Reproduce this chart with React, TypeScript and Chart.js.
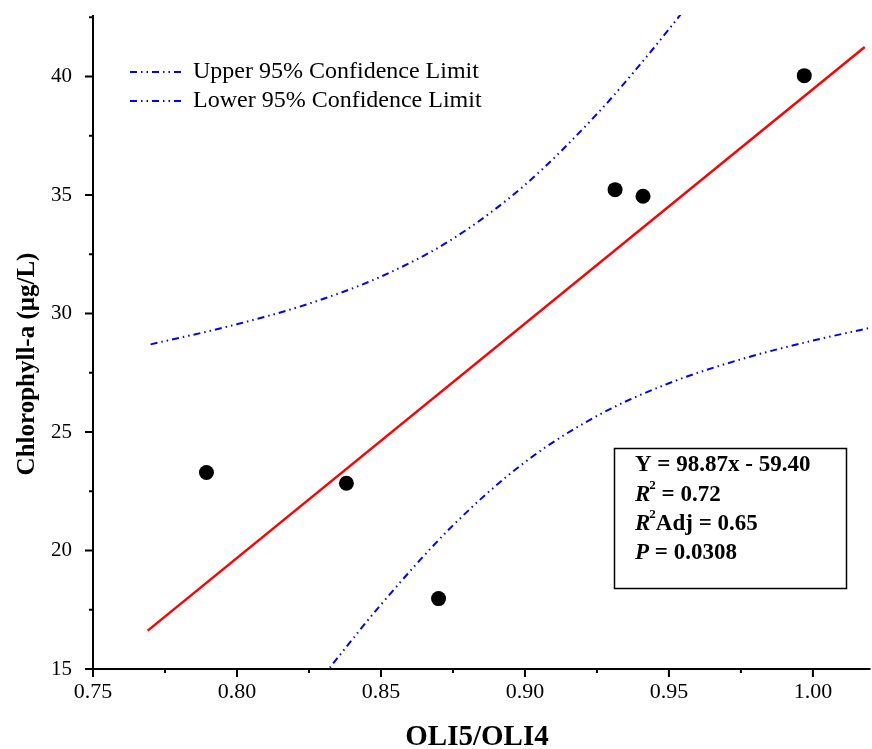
import React, { useEffect, useRef } from "react";
import { Chart, registerables } from "chart.js";
Chart.register(...registerables);

// Observed samples
const pointX = [0.7894, 0.838, 0.870, 0.9313, 0.941, 0.997];
const pointY = [23.29, 22.84, 17.97, 35.23, 34.95, 40.04];
// Fitted line (end points)
const fitX = [0.769, 1.018];
const fitY = [16.62, 41.25];
// Confidence limits
const upperX = [0.77, 0.80, 0.825, 0.85, 0.875, 0.90, 0.925, 0.9375, 0.95, 0.975];
const upperY = [28.70, 29.55, 30.42, 31.56, 33.16, 35.43, 38.42, 40.15, 42.00, 45.93];
const lowerX = [0.77, 0.80, 0.825, 0.8375, 0.85, 0.875, 0.90, 0.925, 0.95, 0.975, 1.00, 1.02];
const lowerY = [4.76, 9.85, 13.92, 15.86, 17.72, 21.06, 23.73, 25.68, 27.06, 28.07, 28.86, 29.40];
// Axes
const xTicks = [0.75, 0.80, 0.85, 0.90, 0.95, 1.00];
const xMinor = [0.775, 0.825, 0.875, 0.925, 0.975];
const yTicks = [15, 20, 25, 30, 35, 40];
const yMinor = [17.5, 22.5, 27.5, 32.5, 37.5, 42.5];
const xTitle = "OLI5/OLI4";
const yTitle = "Chlorophyll-a (μg/L)";
const legendLabels = ["Upper 95% Confidence Limit", "Lower 95% Confidence Limit"];
const statsEquation = "Y = 98.87x - 59.40";
const statsR2 = "0.72";
const statsR2Adj = "0.65";
const statsP = "0.0308";

const SERIF = "'Liberation Serif', 'Times New Roman', serif";
const BAND_DASH = [7, 4, 1.5, 4, 1.5, 4];

const decor = {
  id: "decor",
  afterDraw(chart: any) {
    const ctx = chart.ctx;
    const xs = chart.scales.x;
    const ys = chart.scales.y;
    const a = chart.chartArea;
    ctx.save();
    // axes
    ctx.strokeStyle = "#000";
    ctx.lineWidth = 2;
    ctx.lineCap = "butt";
    ctx.beginPath();
    ctx.moveTo(a.left, a.top);
    ctx.lineTo(a.left, a.bottom + 1);
    ctx.moveTo(a.left - 1, a.bottom);
    ctx.lineTo(a.right, a.bottom);
    ctx.stroke();
    ctx.beginPath();
    for (const v of xTicks) {
      const px = xs.getPixelForValue(v);
      ctx.moveTo(px, a.bottom);
      ctx.lineTo(px, a.bottom + 8);
    }
    for (const v of xMinor) {
      const px = xs.getPixelForValue(v);
      ctx.moveTo(px, a.bottom);
      ctx.lineTo(px, a.bottom + 4);
    }
    for (const v of yTicks) {
      const py = ys.getPixelForValue(v);
      ctx.moveTo(a.left, py);
      ctx.lineTo(a.left - 8, py);
    }
    for (const v of yMinor) {
      const py = ys.getPixelForValue(v);
      ctx.moveTo(a.left, py);
      ctx.lineTo(a.left - 4, py);
    }
    ctx.stroke();

    // titles
    ctx.fillStyle = "#000";
    ctx.font = `bold 29px ${SERIF}`;
    ctx.textAlign = "center";
    ctx.textBaseline = "middle";
    ctx.fillText(xTitle, 477, 738);
    ctx.save();
    ctx.translate(28, 364);
    ctx.rotate(-Math.PI / 2);
    ctx.font = `bold 25px ${SERIF}`;
    ctx.fillText(yTitle, 0, 0);
    ctx.restore();

    // legend
    ctx.textAlign = "left";
    ctx.font = `24px ${SERIF}`;
    legendLabels.forEach((lab, i) => {
      const y = 72 + i * 29;
      ctx.strokeStyle = "#0000ff";
      ctx.lineWidth = 2;
      ctx.setLineDash(BAND_DASH);
      ctx.beginPath();
      ctx.moveTo(130, y);
      ctx.lineTo(181, y);
      ctx.stroke();
      ctx.setLineDash([]);
      ctx.fillStyle = "#000";
      ctx.fillText(lab, 193, y);
    });

    // stats box
    ctx.strokeStyle = "#000";
    ctx.lineWidth = 1.5;
    ctx.strokeRect(614.5, 448.5, 232, 140);
    ctx.fillStyle = "#000";
    const lx = 635;
    const bold = `bold 23px ${SERIF}`;
    const boldIt = `italic bold 23px ${SERIF}`;
    const sup = `bold 13px ${SERIF}`;
    ctx.font = bold;
    ctx.fillText(statsEquation, lx, 465);
    const drawR2 = (yy: number, rest: string) => {
      let x = lx;
      ctx.font = boldIt;
      ctx.fillText("R", x, yy);
      x += ctx.measureText("R").width;
      ctx.font = sup;
      ctx.fillText("2", x - 1, yy - 9);
      x += ctx.measureText("2").width - 1;
      ctx.font = bold;
      ctx.fillText(rest, x, yy);
    };
    drawR2(495, ` = ${statsR2}`);
    drawR2(524, `Adj = ${statsR2Adj}`);
    let x = lx;
    ctx.font = boldIt;
    ctx.fillText("P", x, 553);
    x += ctx.measureText("P").width;
    ctx.font = bold;
    ctx.fillText(` = ${statsP}`, x, 553);
    ctx.restore();
  },
};

const zeroPad = (s: any) => {
  s.paddingTop = 0;
  s.paddingBottom = 0;
  s.paddingLeft = 0;
  s.paddingRight = 0;
};

const CANVAS_W = 878;
const CANVAS_H = 749;

export default function App() {
  const ref = useRef<HTMLCanvasElement | null>(null);
  useEffect(() => {
    if (!ref.current) return;
    const toXY = (xs: number[], ys: number[]) => xs.map((v, i) => ({ x: v, y: ys[i] }));
    const chart = new Chart(ref.current, {
      type: "scatter",
      data: {
        datasets: [
          {
            label: legendLabels[0],
            data: toXY(upperX, upperY),
            showLine: true,
            borderColor: "#0000ff",
            borderWidth: 2,
            borderDash: BAND_DASH,
            pointRadius: 0,
            cubicInterpolationMode: "monotone",
          },
          {
            label: legendLabels[1],
            data: toXY(lowerX, lowerY),
            showLine: true,
            borderColor: "#0000ff",
            borderWidth: 2,
            borderDash: BAND_DASH,
            pointRadius: 0,
            cubicInterpolationMode: "monotone",
          },
          {
            label: "Linear fit",
            data: toXY(fitX, fitY),
            showLine: true,
            borderColor: "#ff0000",
            borderWidth: 2.5,
            pointRadius: 0,
          },
          {
            label: "Samples",
            data: toXY(pointX, pointY),
            showLine: false,
            backgroundColor: "#000",
            borderColor: "#000",
            pointRadius: 7.5,
            borderWidth: 0,
          },
        ],
      } as any,
      options: {
        responsive: false,
        animation: false,
        layout: { padding: { top: 15, right: 2, left: 0, bottom: 0 } },
        plugins: { legend: { display: false }, tooltip: { enabled: false } },
        scales: {
          x: {
            type: "linear",
            position: "bottom",
            min: 0.75,
            max: 1.02,
            grid: { display: false, drawTicks: false },
            border: { display: false },
            afterFit: (s: any) => {
              s.height = 80;
              zeroPad(s);
            },
            afterBuildTicks: (s: any) => {
              s.ticks = xTicks.map((v) => ({ value: v }));
            },
            ticks: {
              padding: 10,
              color: "#000",
              font: { family: SERIF, size: 22 },
              maxRotation: 0,
              callback: (v: any) => Number(v).toFixed(2),
            },
          },
          y: {
            type: "linear",
            min: 15,
            max: 42.6,
            grid: { display: false, drawTicks: false },
            border: { display: false },
            afterFit: (s: any) => {
              s.width = 93;
              zeroPad(s);
            },
            afterBuildTicks: (s: any) => {
              s.ticks = yTicks.map((v) => ({ value: v }));
            },
            ticks: {
              padding: 21,
              color: "#000",
              font: { family: SERIF, size: 21 },
              callback: (v: any) => String(v),
            },
          },
        },
      } as any,
      plugins: [decor],
    });
    return () => chart.destroy();
  }, []);
  return (
    <div style={{ position: "absolute", left: 0, top: 0, width: 872, height: 749, background: "#fff", overflow: "hidden" }}>
      <canvas ref={ref} width={CANVAS_W} height={CANVAS_H} style={{ width: CANVAS_W, height: CANVAS_H, display: "block" }} />
    </div>
  );
}
